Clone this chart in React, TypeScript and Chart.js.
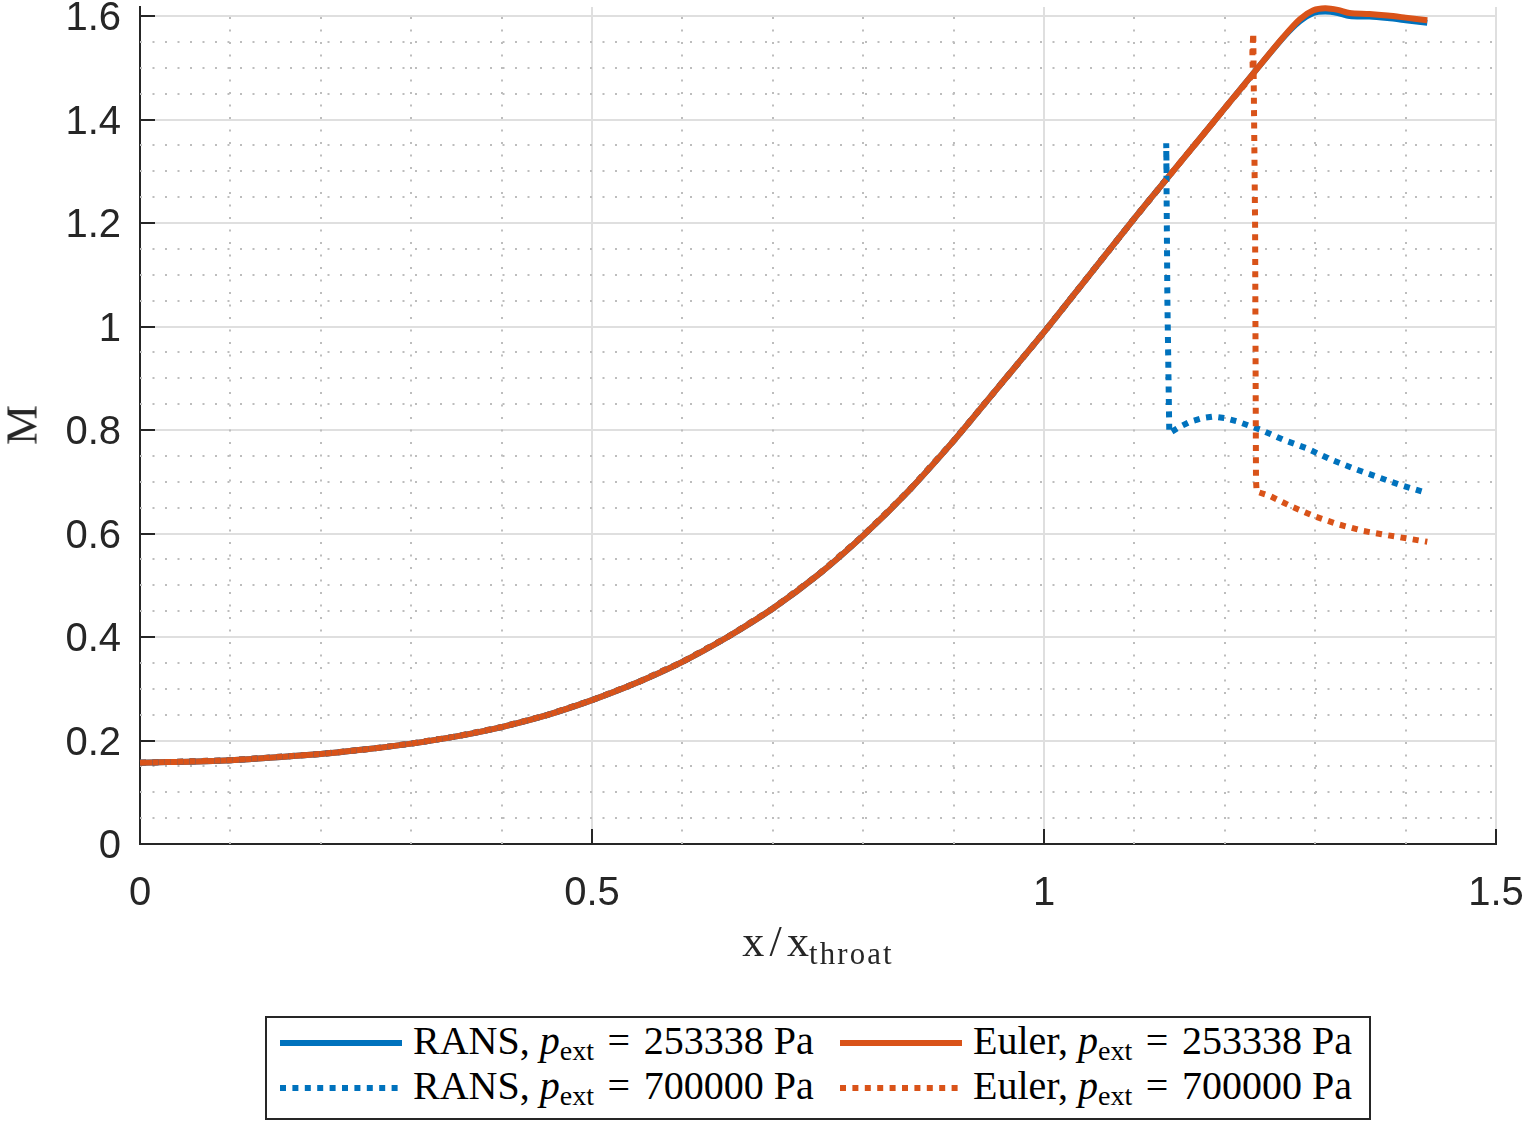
import React, { useEffect, useRef } from 'react';
import { Chart, registerables } from 'chart.js';

Chart.register(...registerables);

// ---- data ----
// shared subsonic / upstream part of every run
const xUpstream = [0, 0.1, 0.2, 0.25, 0.3, 0.35, 0.4, 0.45, 0.5, 0.55, 0.6, 0.65, 0.7, 0.75, 0.8, 0.85, 0.9, 0.95, 1.0, 1.05, 1.1];
const mUpstream = [0.157, 0.162, 0.174, 0.183, 0.194, 0.208, 0.226, 0.249, 0.278, 0.312, 0.352, 0.4, 0.455, 0.52, 0.596, 0.682, 0.779, 0.884, 0.989, 1.099, 1.209];

// p_ext = 253338 Pa (fully supersonic divergent part)
const xSupersonic = [1.136, 1.17, 1.2, 1.23, 1.265, 1.283, 1.298, 1.311, 1.325, 1.338, 1.36, 1.38, 1.4, 1.424];
const mEulerLowP = [1.286, 1.358, 1.422, 1.486, 1.56, 1.594, 1.611, 1.615, 1.612, 1.606, 1.604, 1.601, 1.597, 1.592];
const mRansLowP = [1.286, 1.358, 1.422, 1.486, 1.559, 1.59, 1.606, 1.609, 1.606, 1.6, 1.599, 1.596, 1.592, 1.587];

// p_ext = 700000 Pa (normal shock in divergent part)
const xRansHighP = [1.13, 1.1357, 1.1352, 1.1365, 1.1386, 1.15, 1.1615, 1.175, 1.187, 1.2, 1.213, 1.239, 1.265, 1.29, 1.316, 1.342, 1.368, 1.394, 1.424];
const mRansHighP = [1.273, 1.286, 1.354, 1.05, 0.794, 0.806, 0.816, 0.823, 0.826, 0.823, 0.817, 0.801, 0.781, 0.765, 0.744, 0.726, 0.71, 0.694, 0.678];
const xEulerHighP = [1.136, 1.17, 1.2, 1.231, 1.2305, 1.2315, 1.2335, 1.2345, 1.2352, 1.25, 1.274, 1.298, 1.325, 1.353, 1.379, 1.407, 1.424];
const mEulerHighP = [1.286, 1.358, 1.422, 1.486, 1.53, 1.567, 1.2, 0.703, 0.681, 0.6725, 0.652, 0.634, 0.618, 0.605, 0.597, 0.589, 0.584];

// axis ticks
const xTicks = [0, 0.5, 1, 1.5];
const yTicks = [0, 0.2, 0.4, 0.6, 0.8, 1, 1.2, 1.4, 1.6];
const xMinor = [0.1, 0.2, 0.3, 0.4, 0.6, 0.7, 0.8, 0.9, 1.1, 1.2, 1.3, 1.4];
const yMinor = [0.05, 0.1, 0.15, 0.25, 0.3, 0.35, 0.45, 0.5, 0.55, 0.65, 0.7, 0.75, 0.85, 0.9, 0.95, 1.05, 1.1, 1.15, 1.25, 1.3, 1.35, 1.45, 1.5, 1.55];

const seriesLabels = ['RANS', 'Euler', 'RANS', 'Euler'];
const seriesPressures = ['253338', '253338', '700000', '700000'];

const BLUE = '#0072BD';
const ORANGE = '#D95319';
const AXIS = '#262626';

const pts = (xs: number[], ys: number[]) => xs.map((x, i) => ({ x, y: ys[i] }));

const decor = {
  id: 'decor',
  beforeDatasetsDraw(chart: any) {
    const { ctx, chartArea: a, scales } = chart;
    const x = scales.x, y = scales.y;
    ctx.save();
    ctx.strokeStyle = '#bdbdbd';
    ctx.lineWidth = 2;
    ctx.setLineDash([2, 10.5]);
    for (const v of xMinor) {
      const px = Math.round(x.getPixelForValue(v));
      ctx.beginPath();
      ctx.moveTo(px, a.bottom);
      ctx.lineTo(px, a.top);
      ctx.stroke();
    }
    for (const v of yMinor) {
      const py = Math.round(y.getPixelForValue(v));
      ctx.beginPath();
      ctx.moveTo(a.left, py);
      ctx.lineTo(a.right, py);
      ctx.stroke();
    }
    ctx.restore();
  },
  afterDatasetsDraw(chart: any) {
    const { ctx, chartArea: a, scales } = chart;
    const x = scales.x, y = scales.y;
    ctx.save();
    ctx.strokeStyle = AXIS;
    ctx.lineWidth = 2;
    ctx.setLineDash([]);
    for (const v of yTicks) {
      const py = Math.round(y.getPixelForValue(v));
      ctx.beginPath();
      ctx.moveTo(a.left, py);
      ctx.lineTo(a.left + 15, py);
      ctx.stroke();
    }
    for (const v of xTicks) {
      const px = Math.round(x.getPixelForValue(v));
      ctx.beginPath();
      ctx.moveTo(px, a.bottom);
      ctx.lineTo(px, a.bottom - 15);
      ctx.stroke();
    }
    ctx.restore();
  },
};

function LegendEntry(props: { idx: number; color: string; dotted: boolean; left: number; cy: number }) {
  const { idx, color, dotted, left, cy } = props;
  return (
    <div style={{ position: 'absolute', left, top: cy - 25, height: 50, display: 'flex', alignItems: 'center' }}>
      <svg width={122} height={10} style={{ display: 'block' }}>
        <line x1={0} y1={5} x2={122} y2={5} stroke={color} strokeWidth={6} strokeDasharray={dotted ? '6 6.4' : undefined} />
      </svg>
      <span style={{ marginLeft: 11, fontFamily: '"Liberation Serif", serif', fontSize: 40, lineHeight: 1, whiteSpace: 'nowrap', color: '#000' }}>
        {seriesLabels[idx]}, <i>p</i>
        <span style={{ fontSize: '0.7em', verticalAlign: '-0.22em' }}>ext</span>
        <span style={{ margin: '0 0.34em' }}>=</span>
        {seriesPressures[idx]} Pa
      </span>
    </div>
  );
}

export default function App() {
  const ref = useRef<HTMLCanvasElement>(null);
  useEffect(() => {
    if (!ref.current) return;
    const chart = new Chart(ref.current, {
      type: 'line',
      data: {
        datasets: [
          {
            label: 'RANS, p_ext = 253338 Pa',
            data: pts(xUpstream.concat(xSupersonic), mUpstream.concat(mRansLowP)),
            borderColor: BLUE, borderWidth: 6, pointRadius: 0, tension: 0.3, order: 4, clip: 8,
          },
          {
            label: 'Euler, p_ext = 253338 Pa',
            data: pts(xUpstream.concat(xSupersonic), mUpstream.concat(mEulerLowP)),
            borderColor: ORANGE, borderWidth: 6, pointRadius: 0, tension: 0.3, order: 3, clip: 8,
          },
          {
            label: 'RANS, p_ext = 700000 Pa',
            data: pts(xUpstream.concat(xRansHighP), mUpstream.concat(mRansHighP)),
            borderColor: BLUE, borderWidth: 6, pointRadius: 0, tension: 0, borderDash: [6, 6.4], borderCapStyle: 'butt', order: 2,
          },
          {
            label: 'Euler, p_ext = 700000 Pa',
            data: pts(xUpstream.concat(xEulerHighP), mUpstream.concat(mEulerHighP)),
            borderColor: ORANGE, borderWidth: 6, pointRadius: 0, tension: 0, borderDash: [6, 6.4], borderCapStyle: 'butt', order: 1,
          },
        ] as any,
      },
      options: {
        animation: false,
        responsive: false,
        devicePixelRatio: 1,
        layout: { padding: { top: 7, right: 29, left: 0, bottom: 0 } },
        plugins: { legend: { display: false }, tooltip: { enabled: false } },
        scales: {
          x: {
            type: 'linear',
            min: 0,
            max: 1.5,
            afterBuildTicks: (s: any) => { s.ticks = xTicks.map((v) => ({ value: v })); },
            afterFit: (s: any) => { s.height = 281; s.paddingLeft = 0; s.paddingRight = 0; },
            ticks: {
              color: AXIS, padding: 26, maxRotation: 0, autoSkip: false,
              font: { family: '"Liberation Sans", Arial, sans-serif', size: 40 },
              callback: (v: any) => String(v),
            },
            grid: { color: '#dfdfdf', lineWidth: 2, drawTicks: false },
            border: { color: AXIS, width: 2 },
          },
          y: {
            type: 'linear',
            min: 0,
            max: 1.6175,
            afterBuildTicks: (s: any) => { s.ticks = yTicks.map((v) => ({ value: v })); },
            afterFit: (s: any) => { s.width = 140; s.paddingTop = 0; s.paddingBottom = 0; },
            ticks: {
              color: AXIS, padding: 19, autoSkip: false, labelOffset: 3,
              font: { family: '"Liberation Sans", Arial, sans-serif', size: 40 },
              callback: (v: any) => String(v),
            },
            grid: { color: '#dfdfdf', lineWidth: 2, drawTicks: false },
            border: { color: AXIS, width: 2 },
          },
        },
      } as any,
      plugins: [decor],
    });
    return () => chart.destroy();
  }, []);

  return (
    <div style={{ position: 'absolute', left: 0, top: 0, width: 1525, height: 1125, background: '#fff', overflow: 'hidden' }}>
      <canvas ref={ref} width={1525} height={1125} style={{ position: 'absolute', left: 0, top: 0, width: 1525, height: 1125 }} />
      {/* y-axis title */}
      <div style={{ position: 'absolute', left: 22, top: 425, transform: 'translate(-50%, -50%) rotate(-90deg)', fontFamily: '"Liberation Serif", serif', fontSize: 45, lineHeight: 1, color: AXIS, whiteSpace: 'nowrap' }}>
        M
      </div>
      {/* x-axis title */}
      <div style={{ position: 'absolute', left: 818, top: 920, transform: 'translateX(-50%)', fontFamily: '"Liberation Serif", serif', fontSize: 44, lineHeight: 1, color: AXIS, whiteSpace: 'nowrap' }}>
        x<span style={{ margin: '0 0.12em' }}>/</span>x<span style={{ fontSize: '0.7em', verticalAlign: '-0.25em', letterSpacing: '0.07em' }}>throat</span>
      </div>
      {/* legend */}
      <div style={{ position: 'absolute', left: 265, top: 1016, width: 1106, height: 104, boxSizing: 'border-box', border: `2px solid ${AXIS}`, background: '#fff' }} />
      <LegendEntry idx={0} color={BLUE} dotted={false} left={280} cy={1043} />
      <LegendEntry idx={1} color={ORANGE} dotted={false} left={840} cy={1043} />
      <LegendEntry idx={2} color={BLUE} dotted={true} left={280} cy={1088} />
      <LegendEntry idx={3} color={ORANGE} dotted={true} left={840} cy={1088} />
    </div>
  );
}
